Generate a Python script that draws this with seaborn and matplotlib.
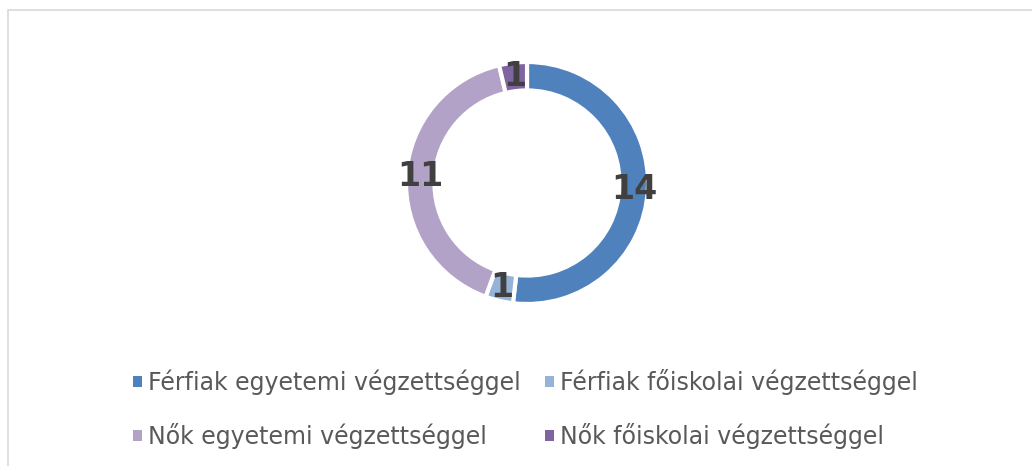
import matplotlib
matplotlib.use("Agg")
import matplotlib.pyplot as plt
import seaborn as sns
from matplotlib.patches import Rectangle, Patch

categories = ["Férfiak egyetemi végzettséggel", "Férfiak főiskolai végzettséggel",
              "Nők egyetemi végzettséggel", "Nők főiskolai végzettséggel"]
values = [14, 1, 11, 1]
colors = ["#4F81BD", "#95B3D7", "#B3A2C7", "#8064A2"]

sns.set_theme(style="white")
plt.rcParams["font.family"] = ["DejaVu Sans"]

W, H = 1032, 466
fig = plt.figure(figsize=(W / 100, H / 100), dpi=100)

# donut centre ~ (527, 183) px, outer radius ~ 120 px
cx, cy, r = 527, 183, 121
ax = fig.add_axes([(cx - r) / W, (H - cy - r) / H, 2 * r / W, 2 * r / H])

total = sum(values)
wedges, _, autotexts = ax.pie(
    values, colors=colors, startangle=90, counterclock=False,
    wedgeprops=dict(width=0.235, edgecolor="white", linewidth=3),
    autopct=lambda p: f"{round(p * total / 100)}", pctdistance=0.885,
)
for t in autotexts:
    t.set_fontsize(24)
    t.set_fontweight("bold")
    t.set_color("#404040")
ax.set_xlim(-1, 1); ax.set_ylim(-1, 1)
ax.set_aspect("equal")

# Excel fills legend row by row -> reorder for matplotlib's column-major fill
order = [0, 2, 1, 3]
handles = [Patch(facecolor=colors[i], edgecolor="none") for i in order]
fig.legend(handles, [categories[i] for i in order],
           loc="upper left", bbox_to_anchor=(121 / W, 1 - 357 / H),
           ncol=2, frameon=False, fontsize=17, labelcolor="#595959",
           handlelength=0.38, handleheight=0.38, handletextpad=0.28,
           columnspacing=1.0, labelspacing=1.2, borderpad=0)

# chart area border (top and left visible)
fig.add_artist(Rectangle((8 / W, -0.2), 1.2, (H - 10) / H + 0.2, transform=fig.transFigure,
                         fill=False, edgecolor="#D9D9D9", linewidth=1.2))

fig.savefig("out.png", dpi=100)
